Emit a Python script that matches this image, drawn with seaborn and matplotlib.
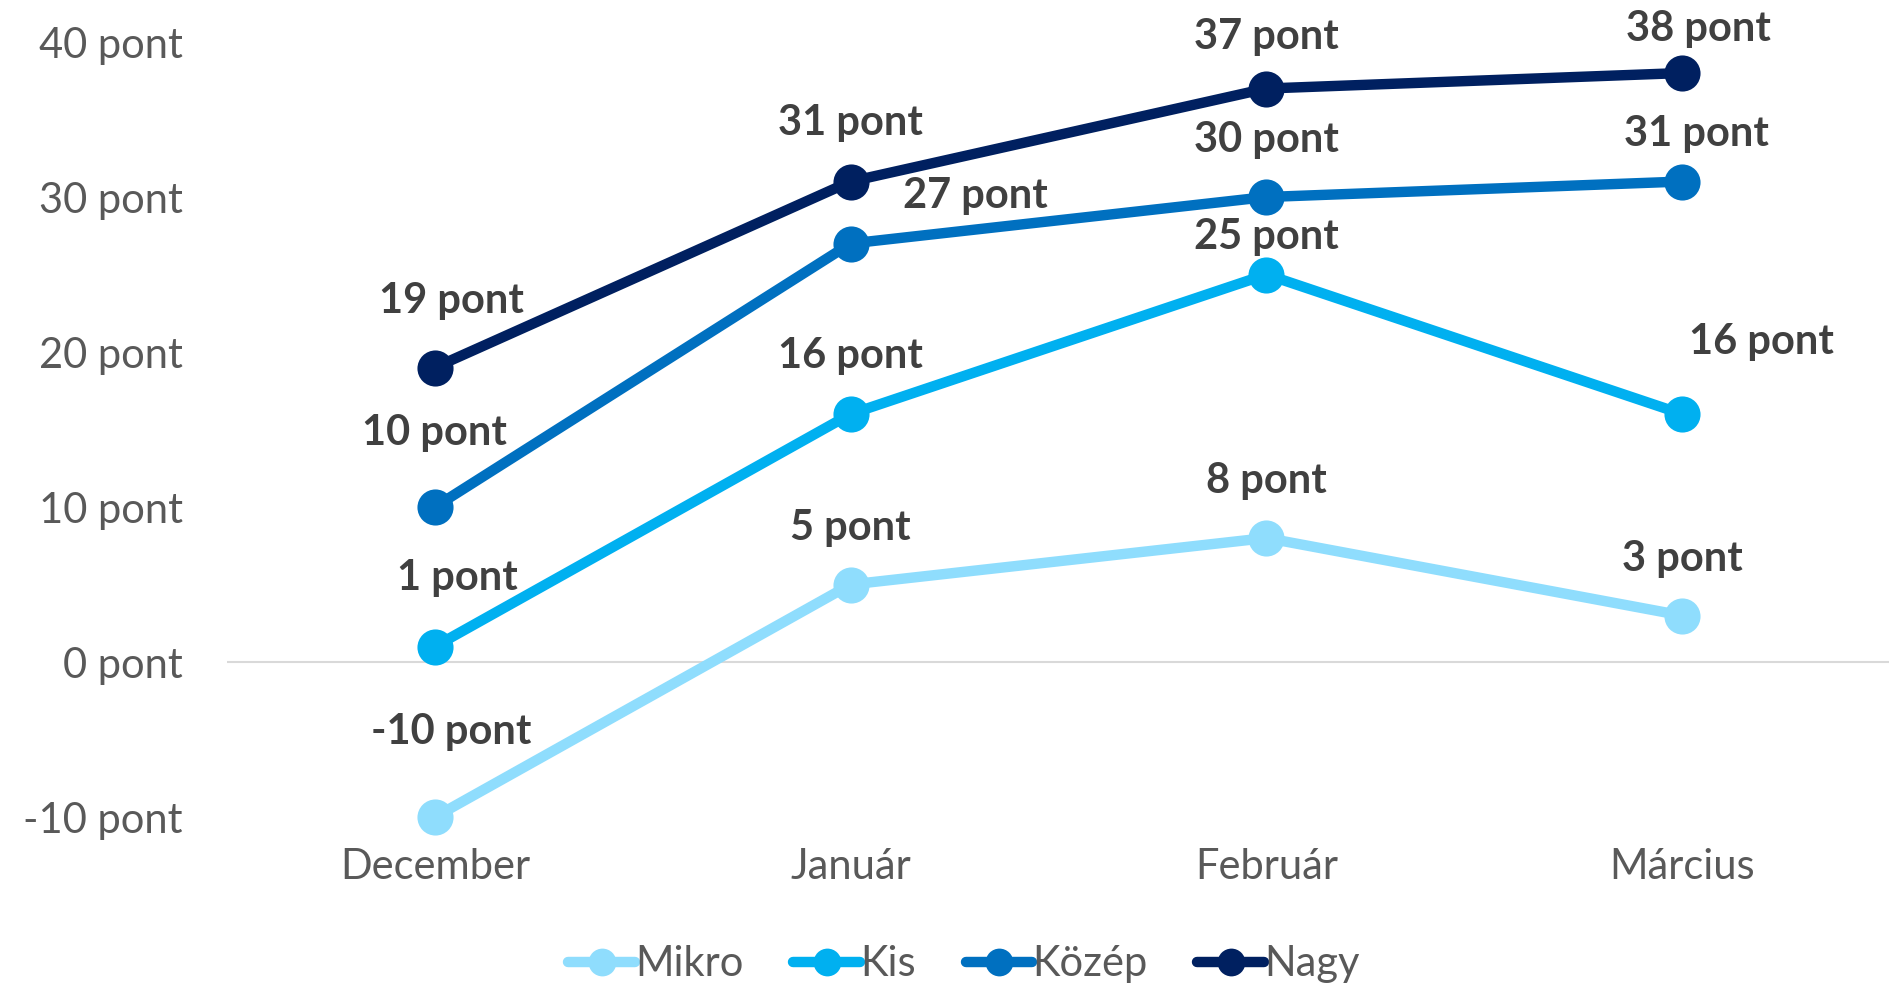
import seaborn as sns
import pandas as pd
import matplotlib.pyplot as plt

months = ["December", "Január", "Február", "Március"]
series = ["Mikro", "Kis", "Közép", "Nagy"]
mikro = [-10, 5, 8, 3]
kis = [1, 16, 25, 16]
kozep = [10, 27, 30, 31]
nagy = [19, 31, 37, 38]
colors = ["#8FDDFD", "#00B0F0", "#0070C0", "#002060"]

rows = []
for name, vals in zip(series, [mikro, kis, kozep, nagy]):
    for m, v in zip(months, vals):
        rows.append({"honap": m, "ertek": v, "meret": name})
df = pd.DataFrame(rows)

# label offsets in points (dx, dy) per series / month
offsets = {
    "Mikro": [(12, 61), (0, 41), (0, 41), (0, 41)],
    "Kis": [(16, 49), (0, 42), (0, 27), (57, 52)],
    "Közép": [(0, 53), (90, 34), (0, 41), (10, 34)],
    "Nagy": [(12, 48), (0, 42), (0, 37), (12, 32)],
}

sns.set_style("white")
plt.rcParams["font.family"] = ["Lato", "DejaVu Sans"]

fig = plt.figure(figsize=(18.9, 9.84), dpi=100)
ax = fig.add_axes([0.1201, 0.1697, 0.8799, 0.7876])

sns.lineplot(data=df, x="honap", y="ertek", hue="meret", palette=colors,
             hue_order=series, marker="o", markersize=26, markeredgewidth=0,
             linewidth=7.5, sort=False, ax=ax, legend=False)
for ln in ax.lines:
    ln.set_clip_on(False)
    ln.set_solid_capstyle("round")

ax.axhline(0, color="#D9D9D9", linewidth=1.5, zorder=0)
ax.set_xlim(-0.5, 3.5)
ax.set_ylim(-10, 40)
ax.set_yticks([-10, 0, 10, 20, 30, 40])
ax.set_yticklabels([f"{t} pont" for t in [-10, 0, 10, 20, 30, 40]])
ax.tick_params(axis="both", labelsize=30, colors="#595959", length=0)
ax.tick_params(axis="x", pad=22)
ax.tick_params(axis="y", pad=32)
ax.set_xlabel("")
ax.set_ylabel("")
for s in ax.spines.values():
    s.set_visible(False)

for name, vals in zip(series, [mikro, kis, kozep, nagy]):
    for i, v in enumerate(vals):
        dx, dy = offsets[name][i]
        ax.annotate(f"{v} pont", (i, v), xytext=(dx, dy), textcoords="offset points",
                    ha="center", va="center", fontsize=30, fontweight="bold",
                    color="#404040")

handles = [plt.Line2D([], [], color=c, marker="o", markersize=20, linewidth=7.5,
                      markeredgewidth=0, solid_capstyle="round") for c in colors]
fig.legend(handles, series, loc="center", bbox_to_anchor=(0.51, 0.02), ncol=4,
           frameon=False, fontsize=30, labelcolor="#595959", handlelength=1.6,
           handletextpad=0.0, columnspacing=1.2)

fig.savefig("out.png", dpi=100)
plt.close()
